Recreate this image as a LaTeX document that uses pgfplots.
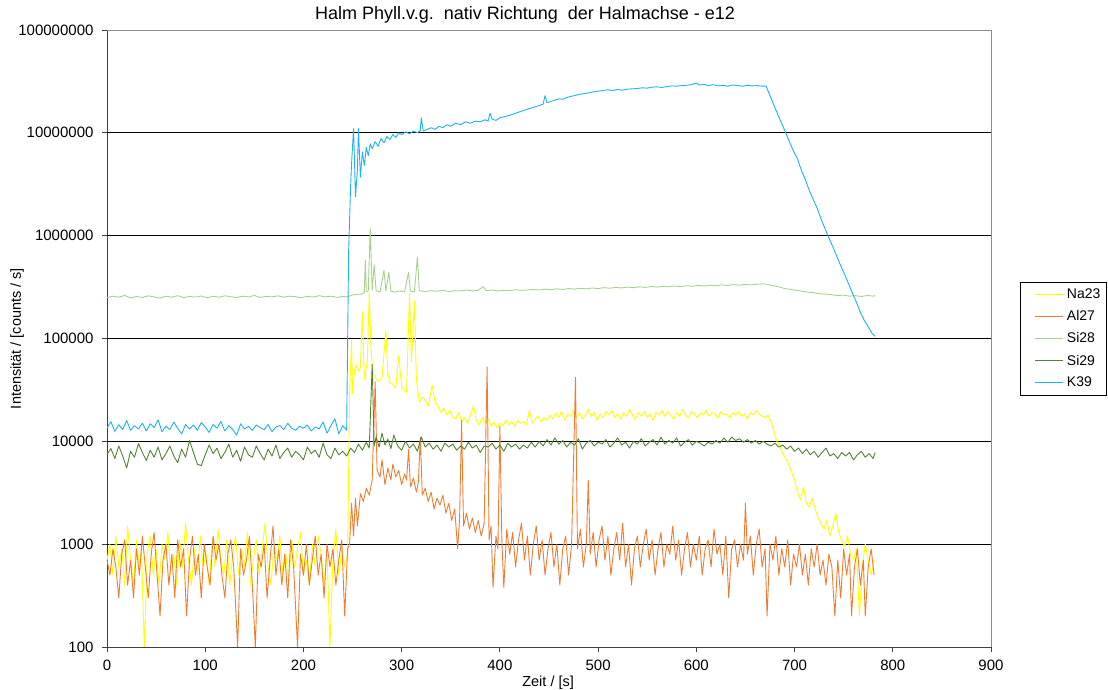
\documentclass[border=0pt]{standalone}
\usepackage{fontspec}
\setmainfont{Liberation Sans}
\usepackage{pgfplots}
\pgfplotsset{compat=1.18}
\definecolor{na}{HTML}{FFFF00}
\definecolor{al}{HTML}{EE7D31}
\definecolor{sia}{HTML}{A9D18E}
\definecolor{sib}{HTML}{548235}
\definecolor{kk}{HTML}{1FB2EE}
\begin{document}
\begin{tikzpicture}
\useasboundingbox (-107pt,-43pt) rectangle (1001pt,647pt);
\begin{axis}[
  at={(0pt,0pt)}, anchor=south west,
  scale only axis, width=884pt, height=617pt,
  xmin=0, xmax=900, ymin=100, ymax=100000000,
  ymode=log, yminorticks=false,
  axis lines*=left, axis line style={-, draw=black!75, line width=0.8pt},
  xtick={0,100,...,900},
  ytick={100,1000,10000,100000,1000000,10000000,100000000},
  yticklabels={100,1000,10000,100000,1000000,10000000,100000000},
  extra y ticks={1000,10000,100000,1000000,10000000},
  extra y tick labels={},
  extra y tick style={grid=major},
  grid style={black, line width=1.3pt},
  tick align=outside, major tick length=5pt,
  tick style={black!75, line width=0.8pt},
  xtick pos=bottom, ytick pos=left,
  /pgf/number format/assume math mode=true,
  ticklabel style={font=\fontsize{15}{17}\selectfont},
  yticklabel style={xshift=-5pt},
  xticklabel style={yshift=-5pt},
  title={Halm Phyll.v.g.\ \ nativ Richtung\ \ der Halmachse - e12},
  title style={at={(axis description cs:0.473,1)}, anchor=base, yshift=4pt, font=\fontsize{18}{21}\selectfont},
  xlabel={Zeit / [s]},
  xlabel style={at={(axis description cs:0.499,-0.0583)}, anchor=center, font=\fontsize{14.5}{16}\selectfont},
  ylabel={Intensität / [counts / s]},
  ylabel style={at={(axis description cs:-0.1018,0.5)}, anchor=center, font=\fontsize{14.5}{16}\selectfont},
  no markers,
  every axis plot/.append style={line width=0.9pt, line join=round},
  legend style={at={(1.033,0.5)}, anchor=west, draw=black,
    font=\fontsize{14}{16}\selectfont, inner xsep=4pt, inner ysep=4.7pt,
    row sep=6.6pt, column sep=1pt},
  legend cell align=left,
  legend image code/.code={\draw[#1,draw=none] plot coordinates {(0pt,0pt) (1pt,0pt)}; \draw[#1,line width=1.1pt] plot coordinates {(11pt,0pt) (39pt,0pt)};},
  extra description/.code={\draw[black!45, line width=0.7pt] (axis description cs:0,1) -- (axis description cs:1,1) -- (axis description cs:1,0);}
]
% Na23
\addplot[na] coordinates {
(0,700)(3,1000)(6,500)(9,1200)(12,600)(15,900)(18,400)(21,1500)(24,700)(27,400)(30,1100)(33,600)(35,900)(38,100)(41,800)(44,1200)(47,500)(50,900)(53,400)(56,1000)(59,700)(62,1300)(65,500)(68,800)(71,400)(74,1100)(77,600)(80,1600)(83,700)(86,400)(89,900)(92,500)(95,1200)(98,600)(101,800)(104,400)(107,1000)(110,600)(113,1400)(116,700)(119,500)(122,1100)(125,400)(128,800)(131,1200)(134,500)(137,900)(140,600)(143,1300)(146,400)(149,700)(152,1100)(155,500)(158,900)(161,1600)(164,600)(167,400)(170,1000)(173,700)(176,1200)(179,500)(182,800)(185,400)(188,1100)(191,600)(194,900)(197,1300)(200,500)(203,700)(206,400)(209,1000)(212,600)(215,1200)(218,800)(221,400)(224,900)(227,100)(230,700)(233,1400)(236,500)(239,900)(242,600)(245,800)
(247,30000)(249,96000)(250,29000)(252,50000)(254,55000)(256,48000)(258,52000)(260,180000)(262,40000)(265,60000)(267,280000)(269,70000)(271,46000)(274,40000)(277,38000)(280,42000)(284,120000)(286,45000)(288,37000)(291,36000)(294,33000)(297,68000)(300,34000)(302,32000)(305,30000)(308,280000)(310,60000)(313,230000)(315,40000)(318,24000)(321,27000)(324,25000)(327,22000)(331,35000)(334,24000)(337,22000)(340,19000)(343,21000)(346,18000)(349,20000)(352,17000)(355,16500)(358,19000)(361,15500)(364,17000)(367,15000)(370,18000)(373,22000)(376,16000)(379,14500)(382,17000)(385,15000)(388,16500)(391,14000)(394,15500)(397,13500)(400,15000)(403,14000)(406,16000)(409,14500)(412,15500)(415,14000)(418,16000)(421,15000)(424,15500)(427,14500)(430,20000)(433,15000)(436,16500)(439,17500)(442,15500)(445,17000)(448,16000)
(451,18000)(454,16500)(457,19000)(460,17000)(463,19500)(466,16000)(469,18500)(472,17500)(475,20000)(478,17000)(481,19000)(484,16500)(487,18000)(490,20500)(493,17500)(496,19000)(499,16000)(502,18500)(505,17000)(508,19500)(511,18000)(514,20000)(517,17000)(520,18500)(523,16500)(526,19000)(529,17500)(532,20500)(535,18000)(538,16500)(541,19000)(544,17500)(547,19500)(550,17000)(553,18500)(556,16000)(559,19000)(562,18000)(565,20000)(568,17500)(571,19500)(574,18000)(577,16500)(580,19000)(583,17500)(586,20500)(589,18000)(592,17000)(595,19500)(598,18500)(601,17000)(604,19000)(607,18000)(610,20000)(613,17500)(616,19000)(619,18500)(622,17000)(625,19500)(628,18000)(631,18500)(634,17000)(637,19000)(640,18000)(643,19500)(646,17500)(649,18500)(652,16500)(655,19000)(658,18000)(661,20000)(664,18500)(667,17500)(670,17000)(673,18000)(676,15500)(679,12500)(682,10000)(685,9000)(688,7500)(691,6800)(694,6000)(697,5000)(700,4200)(703,3200)(706,2700)(709,3600)(712,2500)(715,2300)(718,2800)(721,2200)(724,1800)(727,1600)(730,1400)(733,1700)(736,1200)(739,1500)(742,2000)(745,1300)(748,1100)(751,950)(754,1200)(757,800)(760,700)(763,900)(766,200)(769,600)(772,1000)(775,700)(778,500)(781,700)
};
% Al27
\addplot[al] coordinates {
(0,700)(3,500)(6,900)(9,600)(12,300)(15,800)(18,1100)(21,400)(24,700)(27,300)(30,900)(33,500)(36,1200)(39,600)(42,300)(45,800)(48,1300)(51,500)(54,200)(57,700)(60,1000)(63,400)(66,800)(69,300)(72,1100)(75,600)(78,900)(81,200)(84,700)(87,1200)(90,500)(93,800)(96,300)(99,1000)(102,600)(105,400)(108,1200)(111,700)(114,1000)(117,500)(120,300)(123,800)(126,1100)(129,600)(133,100)(136,900)(139,500)(142,700)(145,1200)(148,400)(151,100)(154,800)(157,600)(160,1000)(163,300)(166,700)(169,1500)(172,500)(175,900)(178,400)(181,800)(184,300)(187,1100)(190,600)(194,100)(197,800)(200,500)(203,1000)(206,400)(209,700)(212,1200)(215,500)(218,800)(221,300)(224,1000)(227,600)(230,900)(233,400)(236,700)(239,1100)(242,200)(245,900)
(247,1000)(249,2500)(251,1200)(253,2800)(255,1500)(258,3100)(261,2600)(264,3500)(267,3000)(270,4200)(273,38000)(275,5200)(278,4500)(280,6600)(283,3800)(286,5500)(289,4200)(291,6000)(294,4500)(297,5200)(300,3800)(303,4800)(305,4200)(307,8300)(309,3600)(312,4400)(315,3200)(317,4000)(319,11000)(321,3000)(324,3500)(327,2600)(330,3200)(333,2200)(336,2800)(339,2400)(342,3000)(345,2000)(348,2500)(351,1700)(354,2200)(357,900)(359,1800)(361,16000)(363,1500)(366,2000)(369,1400)(372,1800)(375,1300)(378,1700)(381,1200)(384,1600)(387,53000)(389,1100)(391,1500)(393,380)(396,1200)(398,900)(400,14000)(402,1100)(404,380)(407,1400)(410,800)(413,1300)(416,600)(419,1100)(422,1600)(425,700)(428,1200)(431,500)(434,1000)(437,1500)(440,700)(443,1100)(446,500)(449,900)(452,1300)(455,600)(458,1000)(461,400)(464,900)(467,1200)(470,500)(473,1000)(477,42000)(479,900)(482,1400)(485,600)(488,1000)(490,4200)(492,800)(495,1300)(498,600)(501,1100)(504,1500)(507,700)(510,1200)(513,500)(516,900)(519,1300)(522,700)(525,1600)(528,600)(531,1000)(534,400)(537,900)(540,1200)(543,600)(546,1000)(549,1400)(552,700)(555,1100)(558,500)(561,900)(564,1300)(567,600)(570,1000)(573,800)(576,1500)(579,700)(582,1100)(585,500)(588,900)(591,1300)(594,600)(597,1000)(600,700)(603,1200)(606,500)(609,900)(612,1100)(615,600)(618,1400)(621,800)(624,1000)(627,500)(630,1200)(633,300)(636,900)(639,1100)(642,600)(645,1000)(648,700)(650,2500)(652,800)(655,1200)(658,500)(661,1000)(664,1400)(667,600)(670,900)(672,200)(675,1000)(678,700)(681,1200)(684,500)(687,900)(690,600)(693,1100)(696,400)(699,800)(702,600)(705,1000)(708,500)(711,800)(714,400)(717,900)(720,600)(723,1000)(726,500)(729,700)(732,400)(735,800)(738,600)(741,200)(744,700)(747,300)(750,900)(753,500)(756,800)(758,200)(761,600)(764,900)(767,400)(770,700)(772,200)(775,600)(778,900)(781,500)
};
% Si28
\addplot[sia] coordinates {
(0,250000)(6,258000)(12,252000)(18,262000)(24,248000)(30,256000)(36,251000)(42,260000)(48,254000)(54,247000)(60,258000)(66,252000)(72,261000)(78,250000)(84,256000)(90,253000)(96,259000)(102,249000)(108,257000)(114,252000)(120,260000)(126,255000)(132,250000)(138,258000)(144,253000)(150,262000)(156,251000)(162,257000)(168,254000)(174,260000)(180,252000)(186,258000)(192,255000)(198,249000)(204,257000)(210,253000)(216,261000)(222,254000)(228,258000)(234,251000)(240,256000)(245,254000)
(250,265000)(255,268000)(260,272000)(262,280000)(263,580000)(264,285000)(266,290000)(268,1180000)(270,295000)(272,520000)(274,290000)(278,285000)(282,460000)(284,290000)(287,440000)(289,288000)(293,282000)(298,290000)(303,284000)(307,440000)(309,288000)(313,286000)(316,620000)(318,292000)(324,286000)(330,292000)(336,288000)(342,294000)(348,286000)(354,292000)(360,290000)(366,296000)(372,290000)(378,294000)(383,320000)(386,292000)(392,296000)(398,290000)(404,294000)(410,292000)(416,298000)(422,294000)(428,296000)(434,300000)(440,296000)(446,302000)(452,298000)(458,304000)(464,300000)(470,306000)(476,302000)(482,308000)(488,304000)(494,310000)(500,306000)(506,312000)(512,308000)(518,314000)(524,310000)(530,316000)(536,312000)(542,318000)(548,314000)(554,320000)(560,316000)(566,322000)(572,318000)(578,324000)(584,320000)(590,326000)(596,322000)(602,328000)(608,324000)(614,330000)(620,326000)(626,332000)(632,328000)(638,334000)(644,330000)(650,336000)(656,332000)(662,338000)(668,340000)(672,336000)(678,326000)(684,318000)(690,306000)(696,300000)(702,294000)(708,288000)(714,282000)(720,278000)(726,272000)(732,270000)(738,266000)(744,262000)(750,264000)(756,258000)(762,261000)(768,256000)(774,262000)(780,258000)(782,262000)
};
% Si29
\addplot[sib] coordinates {
(0,7500)(4,8500)(8,6800)(12,9000)(16,7200)(20,5500)(24,8000)(28,7000)(32,9500)(36,7800)(40,6500)(44,8200)(48,7000)(52,8800)(56,6600)(60,7600)(64,9000)(68,7200)(72,6200)(76,8400)(80,7000)(84,10200)(88,7800)(92,6000)(96,5800)(100,7400)(104,9200)(108,7600)(112,8600)(116,6800)(120,7800)(124,9400)(128,7000)(132,8200)(136,6400)(140,8800)(144,7400)(148,7000)(152,9000)(156,7600)(160,6600)(164,8400)(168,7200)(172,9200)(176,6800)(180,7800)(184,8600)(188,7000)(192,8000)(196,7400)(200,6600)(204,8800)(208,7600)(212,8200)(216,7000)(220,9600)(224,7400)(228,6800)(232,8600)(236,7400)(240,8000)(244,7200)
(248,8600)(252,7800)(256,9400)(260,8200)(264,9800)(267,8600)(269,30000)(270,56000)(272,9000)(274,11000)(277,8800)(280,12000)(283,9200)(286,10500)(289,8500)(292,11500)(296,9000)(300,8200)(304,10000)(308,8600)(312,9400)(316,8000)(320,11000)(324,8800)(328,9600)(332,8400)(336,9200)(340,8000)(344,9600)(348,8800)(352,9400)(356,8200)(360,9000)(364,8400)(368,9800)(372,8600)(376,9200)(380,7800)(384,9000)(388,8800)(392,9600)(396,8400)(400,9200)(404,8000)(408,9600)(412,8800)(416,9400)(420,8400)(424,9200)(428,8600)(432,9800)(436,8800)(440,10000)(444,9000)(448,10400)(452,9200)(456,10800)(460,9400)(464,10200)(468,8800)(472,9800)(476,9200)(480,10600)(484,8400)(488,9600)(492,10200)(496,9000)(500,9800)(504,9400)(508,10400)(512,8800)(516,9600)(520,10800)(524,9200)(528,9800)(532,8600)(536,10000)(540,9400)(544,10600)(548,9000)(552,9800)(556,10400)(560,9200)(564,11000)(568,9400)(572,10200)(576,9600)(580,10800)(584,9000)(588,9800)(592,10400)(596,9200)(600,10000)(604,9600)(608,9000)(612,9800)(616,9400)(620,10200)(624,9600)(628,10800)(632,9800)(636,11000)(640,10200)(644,10600)(648,9800)(652,10400)(656,9600)(660,10200)(664,9400)(668,10000)(672,9400)(676,9000)(680,9600)(684,8800)(688,9200)(692,8400)(696,9000)(700,8000)(704,8600)(708,7600)(712,8400)(716,7400)(720,8000)(724,7000)(728,7800)(732,8600)(736,7200)(740,7600)(744,6800)(748,7800)(752,7200)(756,7800)(760,6600)(764,7400)(768,8000)(772,7000)(776,7600)(780,6800)(782,7800)
};
% K39
\addplot[kk] coordinates {
(0,13500)(4,15500)(8,12500)(12,14500)(16,13000)(20,16000)(24,12800)(28,14200)(32,13200)(36,15000)(40,12600)(44,14800)(48,13600)(52,16200)(56,12400)(60,14000)(64,13000)(68,15400)(72,13400)(76,11800)(80,14600)(84,13200)(88,14400)(92,12800)(96,15200)(100,13800)(104,12200)(108,14600)(112,13400)(116,15600)(120,12600)(124,14200)(128,13000)(132,11500)(136,14800)(140,13200)(144,14000)(148,12800)(152,14400)(156,13600)(160,13000)(164,14600)(168,12400)(172,13800)(176,14200)(180,13000)(184,15000)(188,13400)(192,12800)(196,14000)(200,13400)(204,14400)(208,12600)(212,13800)(216,13200)(220,15400)(224,12000)(228,14200)(232,16600)(236,11800)(240,14200)(244,12800)
(246,700000)(248,3000000)(249,5000000)(251,11000000)(253,2400000)(255,4500000)(256,11000000)(258,3700000)(260,6500000)(262,4800000)(264,7200000)(266,6000000)(268,7800000)(270,7000000)(273,8200000)(276,7400000)(279,8800000)(282,8000000)(285,9200000)(288,8600000)(291,9600000)(294,9000000)(297,10000000)(300,9600000)(304,10200000)(308,9800000)(312,10400000)(316,10000000)(319,10600000)(320,14000000)(322,10400000)(326,10800000)(330,11200000)(334,10800000)(338,11600000)(342,11200000)(346,12000000)(350,11600000)(355,12400000)(360,12000000)(365,12800000)(370,12400000)(375,13000000)(380,12800000)(385,13400000)(388,13000000)(390,15500000)(392,13600000)(396,13200000)(400,14000000)(405,14400000)(410,14800000)(415,15400000)(420,16000000)(425,16600000)(430,17200000)(435,17800000)(440,18400000)(444,19000000)(446,23000000)(448,19600000)(452,20200000)(456,20800000)(460,21400000)(464,21200000)(468,22000000)(472,22600000)(476,23000000)(480,23600000)(485,24000000)(490,24400000)(495,25000000)(500,25400000)(505,25800000)(510,26200000)(515,25800000)(520,26400000)(525,26000000)(530,26600000)(535,26800000)(540,27000000)(545,27400000)(550,27200000)(555,27800000)(560,28000000)(565,27600000)(570,28200000)(575,28600000)(580,28400000)(585,28800000)(590,29000000)(595,29400000)(600,30500000)(603,29200000)(608,29600000)(612,28800000)(617,29400000)(622,28600000)(627,29000000)(632,28400000)(637,29200000)(642,28800000)(647,28400000)(652,29000000)(657,28600000)(662,28800000)(667,28400000)(671,28500000)
(675,23000000)(679,18600000)(683,15000000)(687,12300000)(691,10000000)(695,8100000)(699,6600000)(703,5600000)(707,4300000)(711,3500000)(715,2750000)(719,2250000)(723,1850000)(727,1450000)(731,1170000)(735,950000)(739,780000)(743,630000)(747,510000)(751,420000)(755,340000)(759,275000)(763,225000)(767,180000)(771,150000)(775,130000)(779,112000)(782,105000)
};
\legend{Na23,Al27,Si28,Si29,K39}
\end{axis}
\end{tikzpicture}
\end{document}
